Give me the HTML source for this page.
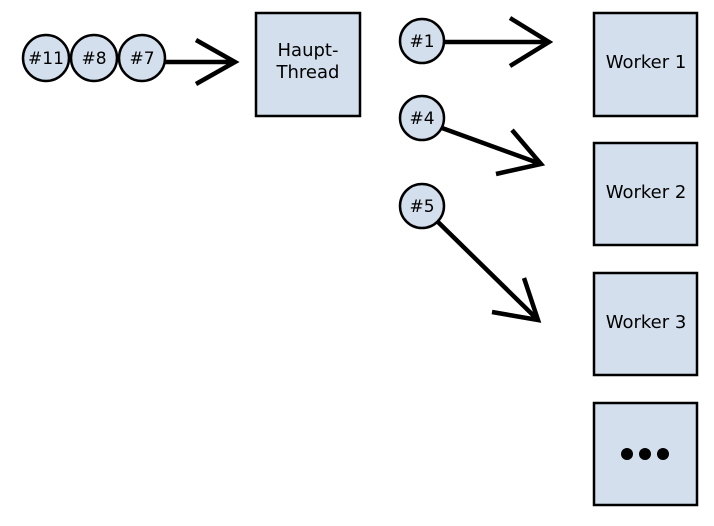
<!DOCTYPE html>
<html><head><style>body{margin:0;background:#fff}svg text{font-size:18px}</style></head><body>
<svg width="714" height="521" xmlns="http://www.w3.org/2000/svg" font-family="'DejaVu Sans','Liberation Sans',sans-serif">
<g fill="#d3dfec" stroke="#000" stroke-width="2.5">
<rect x="256" y="13" width="104" height="103"/>
<rect x="594" y="13" width="103" height="103"/>
<rect x="594" y="143" width="103" height="102"/>
<rect x="594" y="273" width="103" height="102"/>
<rect x="594" y="403" width="103" height="102"/>
<circle cx="46" cy="58" r="23"/>
<circle cx="94" cy="58" r="23"/>
<circle cx="142" cy="58" r="23"/>
<circle cx="422" cy="41" r="22"/>
<circle cx="422" cy="118" r="22"/>
<circle cx="422" cy="206" r="22"/>
</g>
<g fill="none" stroke="#000" stroke-width="4.5">
<path d="M165 62H235M196 40L235 62L196 84"/>
<path d="M445 42H549M510 18L549 42L510 66"/>
<path d="M442 128L541 164M512 130L541 164L496 174"/>
<path d="M438 222L538 320M524 278L538 320L492 312"/>
</g>
<g text-anchor="middle" fill="#000">
<text x="46" y="64" style="font-size:17px">#11</text>
<text x="94" y="64" style="font-size:17px">#8</text>
<text x="142" y="64" style="font-size:17px">#7</text>
<text x="422" y="47" style="font-size:17px">#1</text>
<text x="422" y="124" style="font-size:17px">#4</text>
<text x="422" y="212" style="font-size:17px">#5</text>
<text x="308" y="56">Haupt-</text>
<text x="308" y="78">Thread</text>
<text x="646" y="68">Worker 1</text>
<text x="646" y="198">Worker 2</text>
<text x="646" y="328">Worker 3</text>
</g>
<g fill="#000"><circle cx="627" cy="454" r="6"/><circle cx="645" cy="454" r="6"/><circle cx="663" cy="454" r="6"/></g>
</svg>
</body></html>
